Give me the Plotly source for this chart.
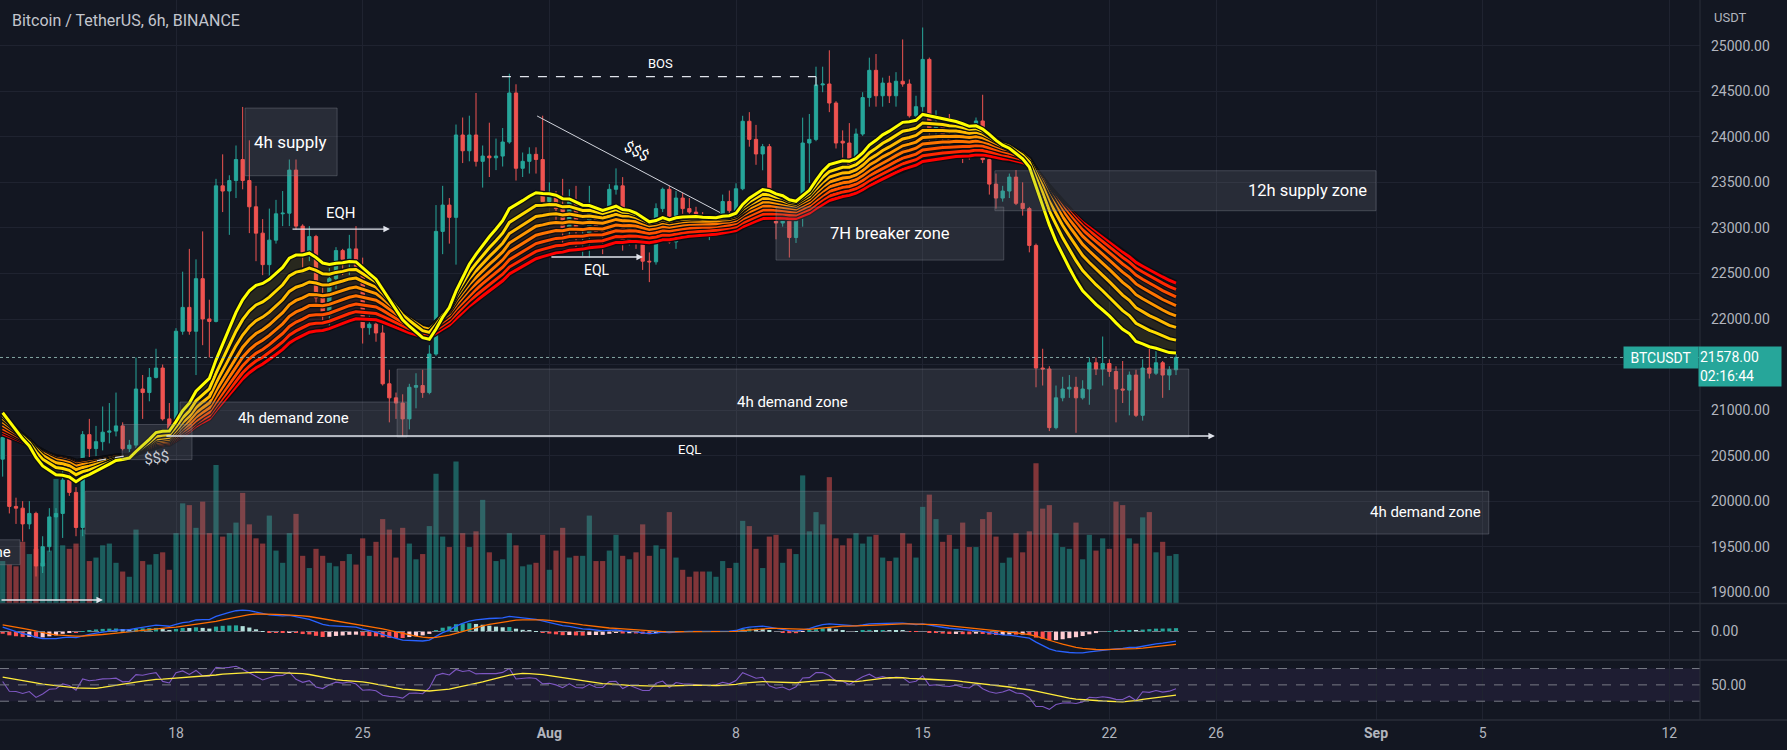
import numpy as np
import pandas as pd
import plotly.graph_objects as go

# ---------------- data ----------------
START = "2022-07-11 12:00"   # first visible 6h candle

open_ = [20462, 20700, 19943, 19924, 19751, 19866, 19289, 19501, 19828, 19866,
         20232, 20097, 19712, 20731, 20578, 20654, 20758, 20770, 20827, 20577,
         20616, 21232, 21193, 21359, 21462, 20904, 20789, 21866, 22128, 21866,
         22443, 22001, 21974, 23462, 23405, 23520, 23751, 23520, 23232, 22943,
         22597, 22866, 23155, 23162, 23635, 23020, 22712, 22905, 22232, 22039,
         22443, 22751, 22655, 22770, 22578, 21905, 21943, 21847, 21289, 21135,
         21078, 20904, 21251, 21270, 21193, 21616, 22962, 23251, 23116, 24020,
         23847, 24020, 23731, 23789, 23770, 23789, 23943, 24481, 23655, 23731,
         23808, 23751, 23289, 23347, 23212, 22962, 23289, 22900, 22924, 23212,
         22962, 22943, 23424, 23462, 22847, 23116, 22885, 22635, 22628, 23212,
         23424, 22847, 23328, 23212, 23174, 23135, 23020, 23040, 23116, 23290,
         23190, 23430, 24171, 23972, 23812, 23892, 23274, 23054, 23154, 22895,
         23134, 23932, 23972, 24570, 24580, 24371, 23952, 23932, 23673, 24031,
         24431, 24730, 24451, 24590, 24451, 24610, 24580, 24231, 24331, 24850,
         24071, 24131, 24011, 23972, 24080, 23904, 23847, 24174, 23750, 23481,
         23328, 23405, 23558, 23270, 23212, 22808, 21462, 21451, 20808, 21135,
         21232, 21251, 21135, 21232, 21520, 21451, 21512, 21424, 21232, 21220,
         21385, 20943, 21462, 21405, 21520, 21385, 21443]

high_ = [20740, 20750, 20039, 20001, 20001, 19885, 19616, 19924, 19924, 20347,
         20328, 20155, 20770, 20904, 20827, 21040, 21078, 21193, 20866, 20673,
         21578, 21386, 21462, 21674, 21501, 21078, 21900, 22520, 22770, 22655,
         22962, 22212, 23539, 23808, 23578, 23905, 24328, 23962, 23462, 23097,
         23212, 23308, 23405, 23751, 23751, 23040, 23020, 22924, 22385, 22559,
         22789, 22770, 22924, 23020, 22674, 22059, 22020, 21943, 21443, 21193,
         21174, 21289, 21405, 21443, 21713, 23251, 23462, 23328, 24135, 24212,
         24232, 24481, 23905, 24155, 23981, 24097, 24693, 24577, 23828, 23885,
         23885, 24232, 23501, 23405, 23539, 23424, 23462, 22962, 23462, 23251,
         23097, 23481, 23654, 23558, 23212, 23174, 22943, 22731, 23270, 23443,
         23462, 23405, 23385, 23328, 23232, 23174, 23059, 23155, 23366, 23410,
         23490, 24231, 24271, 24131, 23922, 23922, 23334, 23274, 23214, 23194,
         24211, 24251, 24770, 24770, 24950, 24391, 24071, 24151, 24091, 24490,
         24869, 24909, 24650, 24670, 24710, 25069, 24630, 24451, 25200, 24870,
         24291, 24211, 24251, 24150, 24135, 24058, 24212, 24462, 23770, 23597,
         23462, 23597, 23635, 23501, 23231, 22828, 21674, 21482, 21270, 21366,
         21385, 21366, 21328, 21578, 21578, 21808, 21558, 21482, 21539, 21424,
         21443, 21558, 21674, 21655, 21539, 21482, 21616]

low_ = [20270, 19866, 19751, 19558, 19693, 19174, 19212, 19443, 18905, 19597,
        20059, 19616, 19616, 20443, 20481, 20558, 20635, 20712, 20558, 20520,
        20577, 20904, 21097, 21347, 20885, 20770, 20750, 21828, 21828, 21385,
        21713, 21578, 21963, 23174, 22924, 23328, 23424, 22943, 22635, 22482,
        22443, 22828, 23020, 23020, 22981, 22520, 22635, 22174, 21962, 21924,
        22328, 22482, 22482, 22559, 21731, 21828, 21751, 21270, 20866, 20904,
        20712, 20789, 21020, 21135, 21174, 21597, 22712, 22828, 22597, 23712,
        23731, 23674, 23443, 23559, 23635, 23674, 23924, 23520, 23559, 23597,
        23597, 23289, 23251, 23059, 22789, 22866, 22751, 22693, 22674, 22905,
        22712, 22924, 23366, 22751, 22808, 22770, 22539, 22405, 22597, 23174,
        22828, 22770, 23155, 23078, 23078, 22943, 22866, 22943, 23050, 23094,
        23094, 23414, 23892, 23693, 23633, 23254, 22875, 23014, 22675, 22835,
        23014, 23493, 23952, 24490, 24271, 23872, 23772, 23613, 23653, 24011,
        24331, 24331, 24331, 24371, 24331, 24550, 24211, 24191, 24231, 23912,
        23952, 23792, 23792, 23892, 23712, 23750, 23830, 23712, 23366, 23212,
        23289, 23328, 23251, 23135, 22732, 21251, 21270, 20770, 20789, 21097,
        21135, 20751, 21116, 21059, 21385, 21270, 21366, 20866, 21078, 20943,
        20924, 20885, 21347, 21385, 21135, 21220, 21385]

close_ = [20700, 19943, 19924, 19751, 19866, 19289, 19501, 19828, 19866, 20232,
          20097, 19712, 20731, 20578, 20654, 20758, 20770, 20827, 20577, 20616,
          21232, 21193, 21359, 21462, 20904, 20789, 21866, 22128, 21866, 22443,
          22001, 21974, 23462, 23405, 23520, 23751, 23520, 23232, 22943, 22597,
          22866, 23155, 23162, 23635, 23020, 22712, 22905, 22232, 22039, 22443,
          22751, 22655, 22770, 22578, 21905, 21943, 21847, 21289, 21135, 21078,
          20904, 21251, 21270, 21193, 21616, 22962, 23251, 23116, 24020, 23847,
          24020, 23731, 23789, 23770, 23789, 23943, 24481, 23655, 23731, 23808,
          23751, 23289, 23347, 23212, 22962, 23289, 22962, 22924, 23212, 22962,
          22943, 23424, 23462, 22847, 23116, 22885, 22635, 22628, 23212, 23424,
          22847, 23328, 23212, 23174, 23135, 23040, 23040, 23116, 23290, 23190,
          23430, 24171, 23972, 23812, 23892, 23274, 23054, 23154, 22895, 23134,
          23932, 23972, 24570, 24580, 24371, 23932, 23932, 23673, 24031, 24431,
          24730, 24451, 24590, 24451, 24610, 24580, 24231, 24331, 24850, 24071,
          24131, 24011, 23972, 24080, 23904, 23847, 24174, 23750, 23481, 23328,
          23405, 23558, 23270, 23212, 22808, 21462, 21451, 20808, 21135, 21232,
          21251, 21135, 21232, 21520, 21451, 21512, 21424, 21232, 21220, 21385,
          20943, 21462, 21405, 21520, 21385, 21443, 21578]

volume = [24, 22, 21, 35, 28, 31, 23, 30, 71, 33,
          31, 34, 42, 24, 26, 33, 34, 23, 18, 15,
          42, 24, 22, 28, 29, 19, 40, 57, 56, 43,
          58, 40, 79, 38, 40, 46, 63, 45, 37, 34,
          50, 30, 23, 40, 51, 27, 20, 31, 27, 23,
          21, 24, 28, 22, 37, 27, 35, 48, 42, 26,
          43, 34, 25, 28, 44, 74, 38, 32, 81, 40,
          32, 41, 59, 29, 24, 25, 40, 33, 21, 22,
          23, 39, 19, 30, 43, 26, 27, 27, 50, 24,
          24, 30, 39, 27, 25, 29, 45, 27, 33, 31,
          52, 26, 19, 15, 18, 18, 18, 15, 24, 20,
          23, 47, 44, 31, 20, 38, 39, 23, 31, 28,
          73, 41, 52, 45, 72, 37, 33, 37, 40, 34,
          38, 39, 26, 24, 26, 40, 34, 26, 55, 62,
          48, 35, 39, 31, 46, 32, 32, 48, 52, 38,
          23, 26, 40, 29, 41, 80, 54, 56, 40, 32,
          31, 46, 25, 39, 30, 37, 31, 58, 56, 37,
          34, 49, 52, 29, 35, 27, 28]

last_price = 21578
price_ticks = [19000, 19500, 20000, 20500, 21000, 21500, 22000, 22500,
               23000, 23500, 24000, 24500, 25000]
date_ticks = ["2022-07-18", "2022-07-25", "2022-08-01", "2022-08-08", "2022-08-15",
              "2022-08-22", "2022-08-26", "2022-09-01", "2022-09-05", "2022-09-12"]
date_labels = ["18", "25", "<b>Aug</b>", "8", "15", "22", "26", "<b>Sep</b>", "5", "12"]

# indicator settings (state before the first visible candle)
ema_periods = [20, 25, 30, 35, 40, 45, 50, 55]
ema_seeds = [21000, 20960, 20920, 20880, 20840, 20800, 20770, 20740]
macd_seeds = {"fast": 21000, "slow": 20800, "signal": 260}
rsi_seeds = {"gain": 100, "loss": 100, "ma": 60}

# ---------------- derived series ----------------
times = pd.date_range(START, periods=len(close_), freq="6h")
close_arr = np.array(close_, dtype=float)


def ema(values, span, seed):
    a = 2.0 / (span + 1)
    e = seed
    out = []
    for v in values:
        e = e + a * (v - e)
        out.append(e)
    return np.array(out)


emas = [ema(close_arr, p, s) for p, s in zip(ema_periods, ema_seeds)]

fast = ema(close_arr, 12, macd_seeds["fast"])
slow = ema(close_arr, 26, macd_seeds["slow"])
macd = fast - slow
signal = ema(macd, 9, macd_seeds["signal"])
hist = macd - signal
hist_colors = []
for i, h in enumerate(hist):
    prev = hist[i - 1] if i > 0 else h
    if h >= 0:
        hist_colors.append("#26a69a" if h >= prev else "#b2dfdb")
    else:
        hist_colors.append("#ffcdd2" if h > prev else "#ff5252")

ag, al = rsi_seeds["gain"], rsi_seeds["loss"]
prev_c = open_[0]
rsi = []
for c in close_:
    ch = c - prev_c
    ag = (ag * 13 + max(ch, 0)) / 14
    al = (al * 13 + max(-ch, 0)) / 14
    rsi.append(100 - 100 / (1 + ag / al))
    prev_c = c
rsi = np.array(rsi)
rsi_ma = []
for i in range(len(rsi)):
    w = rsi[max(0, i - 13):i + 1]
    rsi_ma.append((w.sum() + (14 - len(w)) * rsi_seeds["ma"]) / 14)

up = [c >= o for o, c in zip(open_, close_)]
vol_colors = ["rgba(38,166,154,0.5)" if u else "rgba(239,83,80,0.5)" for u in up]

# ---------------- figure ----------------
BG = "#131722"
GRID = "#1f2330"
AXIS_TXT = "#b2b5be"
FONT = "Roboto"
SIX_H = 6 * 3600 * 1000

fig = go.Figure()

# volume (base axis of main pane)
fig.add_trace(go.Bar(x=times, y=volume, marker_color=vol_colors, marker_line_width=0,
                     width=SIX_H * 0.78, xaxis="x", yaxis="y", hoverinfo="skip"))


def rgba(hexc, a):
    hexc = hexc.lstrip("#")
    r, g, b = int(hexc[0:2], 16), int(hexc[2:4], 16), int(hexc[4:6], 16)
    return f"rgba({r},{g},{b},{a})"


ema_colors = ["#ffff00", "#ffdc00", "#ffb900", "#ff9600", "#ff7300", "#ff5000", "#ff2800", "#ff0000"]

# ribbon fills
for k, e in enumerate(emas):
    fig.add_trace(go.Scatter(x=times, y=e, mode="lines", line=dict(width=0, color=ema_colors[k]),
                             fill=None if k == 0 else "tonexty",
                             fillcolor=rgba(ema_colors[k], 0.09),
                             xaxis="x", yaxis="y2", hoverinfo="skip"))
# dark outlines + coloured lines
for k, e in reversed(list(enumerate(emas))):
    fig.add_trace(go.Scatter(x=times, y=e, mode="lines", line=dict(width=5.5, color="#0b0d12"),
                             xaxis="x", yaxis="y2", hoverinfo="skip"))
    fig.add_trace(go.Scatter(x=times, y=e, mode="lines", line=dict(width=3, color=ema_colors[k]),
                             xaxis="x", yaxis="y2", hoverinfo="skip"))

fig.add_trace(go.Candlestick(
    x=times, open=open_, high=high_, low=low_, close=close_,
    increasing=dict(line=dict(color="#26a69a", width=1), fillcolor="#26a69a"),
    decreasing=dict(line=dict(color="#ef5350", width=1), fillcolor="#ef5350"),
    whiskerwidth=0, xaxis="x", yaxis="y2", hoverinfo="skip"))

# MACD pane
fig.add_trace(go.Bar(x=times, y=hist, marker_color=hist_colors, marker_line_width=0,
                     width=SIX_H * 0.62, xaxis="x2", yaxis="y3", hoverinfo="skip"))
fig.add_trace(go.Scatter(x=times, y=macd, mode="lines", line=dict(color="#2962ff", width=1.3),
                         xaxis="x2", yaxis="y3", hoverinfo="skip"))
fig.add_trace(go.Scatter(x=times, y=signal, mode="lines", line=dict(color="#ff6d00", width=1.3),
                         xaxis="x2", yaxis="y3", hoverinfo="skip"))

# RSI pane
fig.add_trace(go.Scatter(x=times, y=rsi, mode="lines", line=dict(color="#7e57c2", width=1.1),
                         xaxis="x3", yaxis="y4", hoverinfo="skip"))
fig.add_trace(go.Scatter(x=times, y=rsi_ma, mode="lines", line=dict(color="#ffeb3b", width=1.3),
                         xaxis="x3", yaxis="y4", hoverinfo="skip"))

R = max(macd.max() / 0.81, -macd.min() / 0.78)

x_range = ["2022-07-11 09:36", "2022-09-13 03:36"]
xcommon = dict(range=x_range, type="date", showgrid=True, gridcolor=GRID, gridwidth=1,
               tickvals=date_ticks, ticktext=date_labels, zeroline=False, showline=False,
               ticks="", fixedrange=True)

# the 21500 label sits under the last-price box, so its text is left blank
price_labels = ["" if v == 21500 else f"{v:.2f}" for v in price_ticks]

fig.update_layout(
    width=1787, height=750,
    margin=dict(l=0, r=87, t=0, b=30),
    paper_bgcolor=BG, plot_bgcolor=BG,
    showlegend=False,
    font=dict(family=FONT, color=AXIS_TXT, size=14),
    xaxis=dict(**xcommon, domain=[0, 1], anchor="y", showticklabels=False,
               rangeslider=dict(visible=False)),
    xaxis2=dict(**xcommon, domain=[0, 1], anchor="y3", matches="x", showticklabels=False),
    xaxis3=dict(**xcommon, domain=[0, 1], anchor="y4", matches="x", showticklabels=True,
                tickfont=dict(size=14, color=AXIS_TXT), ticklabelstandoff=3),
    yaxis=dict(domain=[0.1625, 1], range=[0, 345], visible=False, fixedrange=True),
    yaxis2=dict(domain=[0.1625, 1], overlaying="y", side="right", range=[18883, 25502],
                tickvals=price_ticks, ticktext=price_labels,
                showgrid=True, gridcolor=GRID, zeroline=False, ticks="",
                ticklabelstandoff=10, tickfont=dict(size=14, color=AXIS_TXT), fixedrange=True),
    yaxis3=dict(domain=[0.0847, 0.1611], range=[-R, R], side="right", tickvals=[0],
                ticktext=["0.00"], showgrid=False, zeroline=False, ticks="",
                ticklabelstandoff=10, tickfont=dict(size=14, color=AXIS_TXT), fixedrange=True),
    yaxis4=dict(domain=[0, 0.0819], range=[7, 79.2], side="right", tickvals=[50],
                ticktext=["50.00"], showgrid=False, zeroline=False, ticks="",
                ticklabelstandoff=10, tickfont=dict(size=14, color=AXIS_TXT), fixedrange=True),
)

shapes = []
BOX_FILL = "rgba(120,123,134,0.22)"
BOX_LINE = "rgba(140,143,154,0.35)"

zones = [
    ("2022-07-20 14:10", "2022-07-24 01:00", 23573, 24316),   # 4h supply
    ("2022-07-18 03:36", "2022-07-26 16:00", 20705, 21089),   # 4h demand (left)
    ("2022-07-15 23:30", "2022-07-18 14:24", 20457, 20842),   # $$$ box
    ("2022-07-26 07:00", "2022-08-24 23:30", 20705, 21451),   # 4h demand (mid)
    ("2022-08-09 12:00", "2022-08-18 01:00", 22647, 23229),   # 7H breaker
    ("2022-08-17 17:00", "2022-09-01 00:00", 23189, 23628),   # 12h supply
    ("2022-07-14 14:10", "2022-09-05 05:30", 19640, 20110),   # 4h demand (low)
    ("2022-07-09 03:36", "2022-07-12 03:36", 19303, 19577),   # cut-off label box
]
for x0, x1, y0, y1 in zones:
    shapes.append(dict(type="rect", xref="x", yref="y2", x0=x0, x1=x1, y0=y0, y1=y1,
                       fillcolor=BOX_FILL, line=dict(color=BOX_LINE, width=1), layer="above"))

# current price line
shapes.append(dict(type="line", xref="paper", yref="y2", x0=0, x1=1, y0=last_price, y1=last_price,
                   line=dict(color="rgba(150,190,186,0.85)", width=1, dash="dot"), layer="above"))
# BOS dashed line
shapes.append(dict(type="line", xref="x", yref="y2", x0="2022-07-30 05:20", x1="2022-08-11 00:00",
                   y0=24660, y1=24660, line=dict(color="#e0e3eb", width=1.2, dash="dash"), layer="above"))
shapes.append(dict(type="line", xref="x", yref="y2", x0="2022-08-11 00:00", x1="2022-08-11 00:00",
                   y0=24660, y1=24560, line=dict(color="#e0e3eb", width=1), layer="above"))
# $$$ trend line
shapes.append(dict(type="line", xref="x", yref="y2", x0="2022-07-31 13:00", x1="2022-08-07 09:36",
                   y0=24229, y1=23169, line=dict(color="#d1d4dc", width=1), layer="above"))
# small dashed near left $$$
shapes.append(dict(type="line", xref="x", yref="y2", x0="2022-07-15 01:00", x1="2022-07-16 09:20",
                   y0=20446, y1=20512, line=dict(color="#d1d4dc", width=1.2, dash="dash"), layer="above"))

# MACD zero line, RSI bands
shapes.append(dict(type="line", xref="paper", yref="y3", x0=0, x1=1, y0=0, y1=0,
                   line=dict(color="#787b86", width=1, dash="dash")))
shapes.append(dict(type="rect", xref="paper", yref="y4", x0=0, x1=1, y0=30, y1=70,
                   fillcolor="rgba(126,87,194,0.1)", line=dict(width=0), layer="below"))
for lv in (70, 50, 30):
    shapes.append(dict(type="line", xref="paper", yref="y4", x0=0, x1=1, y0=lv, y1=lv,
                       line=dict(color="#787b86", width=1, dash="dash")))

# pane separators and borders
for py in (0.1618, 0.0833, 0.0):
    shapes.append(dict(type="line", xref="paper", yref="paper", x0=0, x1=1.052, y0=py, y1=py,
                       line=dict(color="#2a2e39", width=1.5)))
shapes.append(dict(type="line", xref="paper", yref="paper", x0=1, x1=1, y0=0, y1=1,
                   line=dict(color="#2a2e39", width=1)))
fig.update_layout(shapes=shapes)

ann = []
WHITE = "#ffffff"


def text(x, y, t, size=16, xanchor="center", angle=0, color=WHITE):
    ann.append(dict(x=x, y=y, xref="x", yref="y2", text=t, showarrow=False,
                    xanchor=xanchor, yanchor="middle", textangle=angle,
                    font=dict(family=FONT, size=size, color=color)))


text("2022-07-22 07:26", 23943, "4h supply", size=17)
text("2022-07-22 10:10", 20913, "4h demand zone", size=15)
text("2022-08-10 02:24", 21089, "4h demand zone", size=15)
text("2022-08-13 18:30", 22944, "7H breaker zone", size=16.5)
text("2022-08-31 17:30", 23409, "12h supply zone", size=16.5, xanchor="right")
text("2022-09-05 00:00", 19882, "4h demand zone", size=15, xanchor="right")
text("2022-07-11 21:20", 19440, "4h demand zone", size=15, xanchor="right")
text("2022-07-24 04:30", 23164, "EQH", size=15)
text("2022-08-02 19:00", 22538, "EQL", size=14)
text("2022-08-06 06:30", 20573, "EQL", size=13)
text("2022-08-05 03:36", 24807, "BOS", size=13)
text("2022-08-04 06:00", 23844, "$$$", size=15, angle=28)
text("2022-07-17 06:00", 20480, "$$$", size=15, angle=-8, color="#c8cbd3")


def arrow(x0, x1, y):
    ann.append(dict(x=x1, y=y, ax=x0, ay=y, xref="x", yref="y2", axref="x", ayref="y2",
                    text="", showarrow=True, arrowhead=2, arrowsize=1, arrowwidth=1.3,
                    arrowcolor="#e0e3eb"))


arrow("2022-07-17 14:00", "2022-08-25 23:00", 20716)
arrow("2022-07-22 07:30", "2022-07-26 00:30", 22988)
arrow("2022-08-01 00:30", "2022-08-04 12:15", 22681)
arrow("2022-07-11 09:36", "2022-07-15 06:15", 18916)

# header / price labels (paper coordinates)
ann.append(dict(x=0.0056, y=(720 - 20) / 720, xref="paper", yref="paper", showarrow=False,
                text="Bitcoin / TetherUS, 6h, BINANCE", xanchor="left", yanchor="middle",
                font=dict(family=FONT, size=16, color="#c3c6ce")))
ann.append(dict(x=1712 / 1700, y=(720 - 17) / 720, xref="paper", yref="paper", showarrow=False,
                text="USDT", xanchor="left", yanchor="middle",
                font=dict(family=FONT, size=13, color=AXIS_TXT)))
ann.append(dict(x=1661 / 1700, y=last_price, xref="paper", yref="y2", showarrow=False,
                text="BTCUSDT", xanchor="center", yanchor="middle", bgcolor="#26a69a",
                width=72, height=19, font=dict(family=FONT, size=14, color=WHITE)))
ann.append(dict(x=1740 / 1700, y=(720 - 366) / 720, xref="paper", yref="paper", showarrow=False,
                text="21578.00<br>02:16:44", xanchor="center", yanchor="middle",
                bgcolor="#26a69a", width=80, height=37, align="left",
                font=dict(family=FONT, size=14, color=WHITE)))
fig.update_layout(annotations=ann)

fig.write_html("out.html")
